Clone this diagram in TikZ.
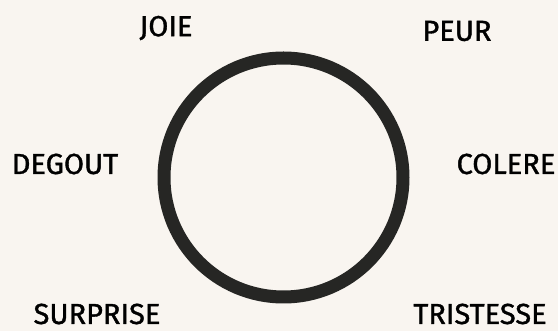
\documentclass[tikz,border=0pt]{standalone}
\usepackage{fontspec}
\setmainfont{Fira Sans}
\newfontfamily\emofont{Fira Sans}[FakeBold=1.2]
\usetikzlibrary{positioning}
\definecolor{paper}{HTML}{F9F5F0}
\definecolor{ink}{HTML}{262624}

\begin{document}
\begin{tikzpicture}[
        x=1pt, y=-1pt,
        every node/.style={inner sep=0pt, outer sep=0pt},
        emotion/.style={font=\emofont\fontsize{29}{31}\selectfont, text=black},
        wheel/.style={circle, draw=ink, line width=13pt, minimum size=239pt}
    ]
    \fill[paper] (0,0) rectangle (558,331);
    \useasboundingbox (0,0) rectangle (558,331);
    \node (Wheel) [wheel] at (283.5,177.5) {};
    \node (Joie) [emotion] at (166,28) {JOIE};
    \node (Peur) [emotion] at (457,31) {PEUR};
    \node (Degout) [emotion] at (65,164) {DEGOUT};
    \node (Colere) [emotion] at (506,164) {COLERE};
    \node (Surprise) [emotion] at (97,314) {SURPRISE};
    \node (Tristesse) [emotion] at (480,314) {TRISTESSE};
    \end{tikzpicture}
\end{document}
